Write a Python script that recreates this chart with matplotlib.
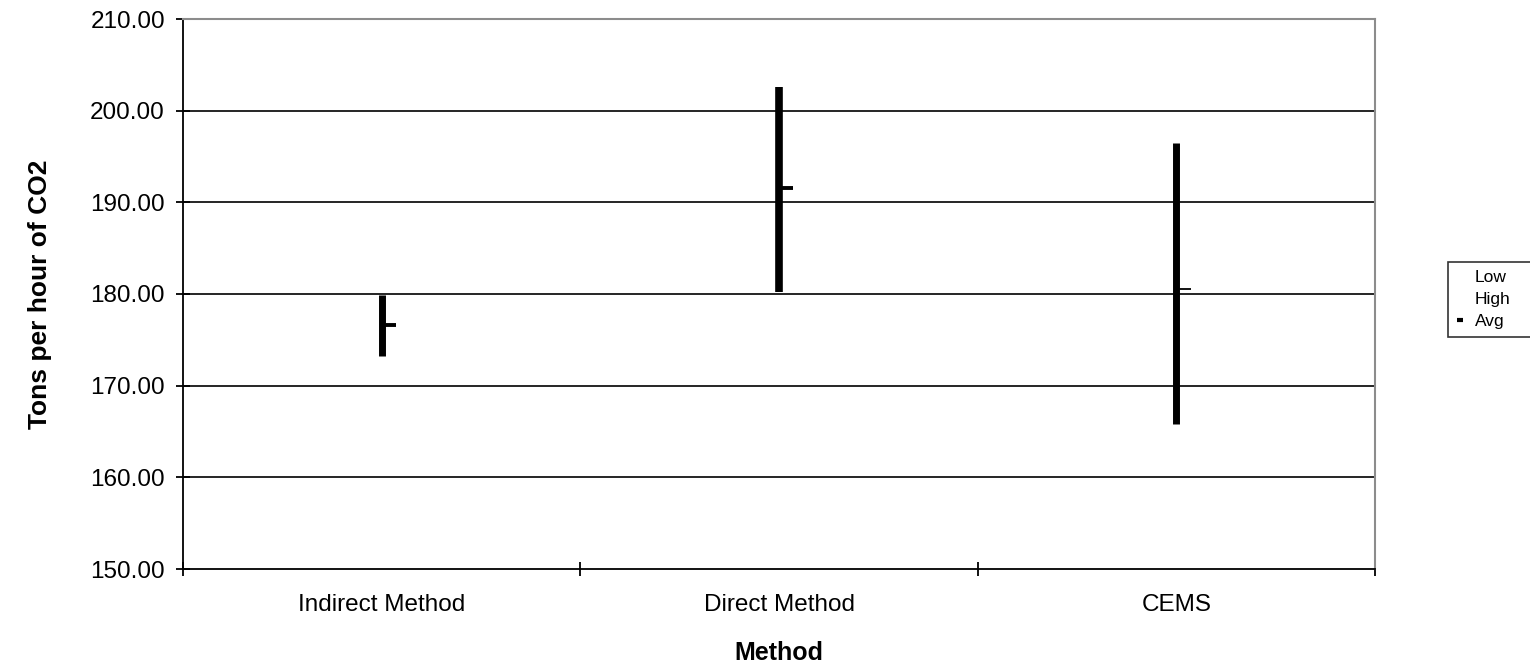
import matplotlib
matplotlib.use("Agg")
import matplotlib.pyplot as plt
from matplotlib.lines import Line2D

plt.rcParams["font.family"] = ["Liberation Sans", "DejaVu Sans"]

# data
methods = ["Indirect Method", "Direct Method", "CEMS"]
low = [173.2, 180.2, 165.8]
high = [179.9, 202.6, 196.5]
avg = [176.6, 191.6, 180.5]

# styling per series (bar widths / avg tick widths in points)
bar_lw = [5.0, 5.5, 5.0]
avg_lw = [2.8, 2.8, 1.3]

fig = plt.figure(figsize=(15.3, 6.62), dpi=100)
ax = fig.add_axes([183 / 1530, 93 / 662, 1192 / 1530, 550 / 662])

xs = list(range(len(methods)))
for i, x in enumerate(xs):
    ax.vlines(x, low[i], high[i], color="black", lw=bar_lw[i], zorder=3)
    ax.hlines(avg[i], x, x + 0.036, color="black", lw=avg_lw[i], zorder=3)

ax.set_xlim(-0.5, 2.5)
ax.set_ylim(150, 210)
ax.set_yticks(range(150, 211, 10))
ax.set_yticklabels([f"{v:.2f}" for v in range(150, 211, 10)], fontsize=17.5)

# category labels centered, tick marks on boundaries
ax.set_xticks([-0.5, 0.5, 1.5, 2.5])
ax.set_xticklabels([])
ax.set_xticks(xs, minor=True)
ax.set_xticklabels(methods, minor=True, fontsize=17.5)
ax.tick_params(axis="x", which="minor", length=0, pad=18)
ax.tick_params(axis="both", which="major", direction="inout", length=10, width=1.3)
ax.tick_params(axis="y", pad=8)

ax.grid(axis="y", color="black", lw=1.2, zorder=1)
ax.get_ygridlines()[-1].set_visible(False)
ax.get_ygridlines()[0].set_visible(False)

for s in ["left", "bottom"]:
    ax.spines[s].set_color("black")
    ax.spines[s].set_linewidth(1.3)
for s in ["top", "right"]:
    ax.spines[s].set_color("#8c8c8c")
    ax.spines[s].set_linewidth(1.5)

ax.set_ylabel("Tons per hour of CO2", fontsize=19, fontweight="bold")
ax.yaxis.set_label_coords(-0.11, 0.5)
ax.set_xlabel("Method", fontsize=18, fontweight="bold")
ax.xaxis.set_label_coords(0.5, -0.13)

handles = [
    Line2D([], [], color="none"),
    Line2D([], [], color="none"),
    Line2D([], [], color="black", marker="_", ms=5, mew=3, lw=0),
]
leg = fig.legend(handles, ["Low", "High", "Avg"], loc="upper left",
                 bbox_to_anchor=(1448 / 1530, 0, 140 / 1530, 1 - 262 / 662),
                 mode="expand", fontsize=12.5,
                 frameon=True, fancybox=False, handlelength=0.5,
                 handletextpad=0.6, borderpad=0.45, labelspacing=0.4,
                 borderaxespad=0)
leg.get_frame().set_edgecolor("black")
leg.get_frame().set_linewidth(1.2)

fig.savefig("out.png", dpi=100)
